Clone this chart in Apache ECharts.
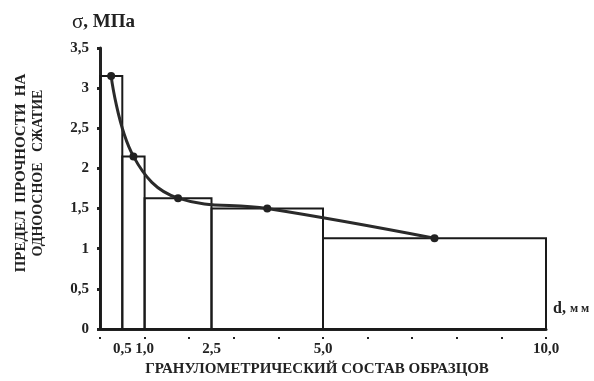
<!DOCTYPE html>
<html>
<head>
<meta charset="utf-8">
<script src="https://cdn.jsdelivr.net/npm/echarts@6/dist/echarts.min.js"></script>
<style>
html,body{margin:0;padding:0;background:#fff;}
#chart{width:594px;height:381px;}
</style>
</head>
<body>
<div id="chart"></div>
<script>
// Grain-size class boundaries, mm
const classEdges = [0, 0.5, 1.0, 2.5, 5.0, 10.0];
// Midpoints of each class, mm
const classMid = [0.25, 0.75, 1.75, 3.75, 7.5];
// Uniaxial compressive strength, MPa
const strength = [3.15, 2.15, 1.63, 1.5, 1.13];
// Labelled x-axis values
const xTickLabels = [0.5, 1.0, 2.5, 5.0, 10.0];

const FONT = '"Liberation Serif", "Times New Roman", serif';
const INK = '#222';

const boxData = strength.map((h, i) => [classEdges[i], classEdges[i + 1], h]);
const lineData = classMid.map((x, i) => [x, strength[i]]);

const chart = echarts.init(document.getElementById('chart'), null, {renderer: 'canvas'});
chart.setOption({
  animation: false,
  backgroundColor: '#fff',
  grid: {left: 100, top: 48, width: 446, height: 281, containLabel: false},
  xAxis: [{
    type: 'value', min: 0, max: 10, interval: 1,
    axisLine: {show: true, lineStyle: {color: INK, width: 3}},
    axisTick: {show: false},
    splitLine: {show: false},
    axisLabel: {
      customValues: xTickLabels,
      formatter: v => v.toFixed(1).replace('.', ','),
      margin: 13, fontFamily: FONT, fontWeight: 'bold', fontSize: 15, color: INK
    }
  }, {
    type: 'value', min: 0, max: 10, interval: 1, position: 'bottom', offset: 8,
    axisLine: {show: false},
    axisTick: {show: true, length: 2, lineStyle: {color: INK, width: 2}},
    axisLabel: {show: false},
    splitLine: {show: false}
  }],
  yAxis: {
    type: 'value', min: 0, max: 3.5, interval: 0.5,
    axisLine: {show: true, lineStyle: {color: INK, width: 3}},
    axisTick: {show: true, length: 3, lineStyle: {color: INK, width: 3}},
    splitLine: {show: false},
    axisLabel: {
      formatter: v => String(v).replace('.', ','),
      margin: 11, fontFamily: FONT, fontWeight: 'bold', fontSize: 15, color: INK
    }
  },
  series: [{
    type: 'custom',
    xAxisIndex: 0,
    data: boxData,
    encode: {x: [0, 1], y: 2},
    renderItem: function (params, api) {
      const p0 = api.coord([api.value(0), api.value(2)]);
      const p1 = api.coord([api.value(1), 0]);
      return {
        type: 'rect',
        shape: {x: p0[0], y: p0[1], width: p1[0] - p0[0], height: p1[1] - p0[1]},
        style: {fill: 'none', stroke: '#1a1a1a', lineWidth: 2}
      };
    },
    z: 2
  }, {
    type: 'line',
    xAxisIndex: 0,
    data: lineData,
    smooth: 0.4,
    symbol: 'circle', symbolSize: 8,
    lineStyle: {color: '#2a2a2a', width: 3},
    itemStyle: {color: '#222'},
    z: 3
  }],
  graphic: [{
    type: 'text', left: 72, top: 12,
    style: {
      rich: {
        s: {fontFamily: FONT, fontSize: 21, fill: INK},
        b: {fontFamily: FONT, fontSize: 19, fontWeight: 'bold', fill: INK}
      },
      text: '{s|σ}{b|, МПа}'
    }
  }, {
    type: 'text', left: 553, top: 301,
    style: {
      rich: {
        d: {fontFamily: FONT, fontSize: 16, fontWeight: 'bold', fill: INK},
        m: {fontFamily: FONT, fontSize: 12, fontWeight: 'bold', fill: INK}
      },
      text: '{d|d, }{m|м м}'
    }
  }, {
    type: 'text', x: 317, y: 369,
    style: {
      text: 'ГРАНУЛОМЕТРИЧЕСКИЙ СОСТАВ ОБРАЗЦОВ',
      fontFamily: FONT, fontSize: 15, fontWeight: 'bold', fill: INK,
      align: 'center', verticalAlign: 'middle'
    }
  }, {
    type: 'text', x: 21, y: 173, rotation: Math.PI / 2,
    style: {
      text: 'ПРЕДЕЛ  ПРОЧНОСТИ  НА',
      fontFamily: FONT, fontSize: 15, fontWeight: 'bold', fill: INK,
      align: 'center', verticalAlign: 'middle'
    }
  }, {
    type: 'text', x: 38, y: 173, rotation: Math.PI / 2,
    style: {
      text: 'ОДНООСНОЕ   СЖАТИЕ',
      fontFamily: FONT, fontSize: 14, fontWeight: 'bold', fill: INK,
      align: 'center', verticalAlign: 'middle'
    }
  }]
});
</script>
</body>
</html>
